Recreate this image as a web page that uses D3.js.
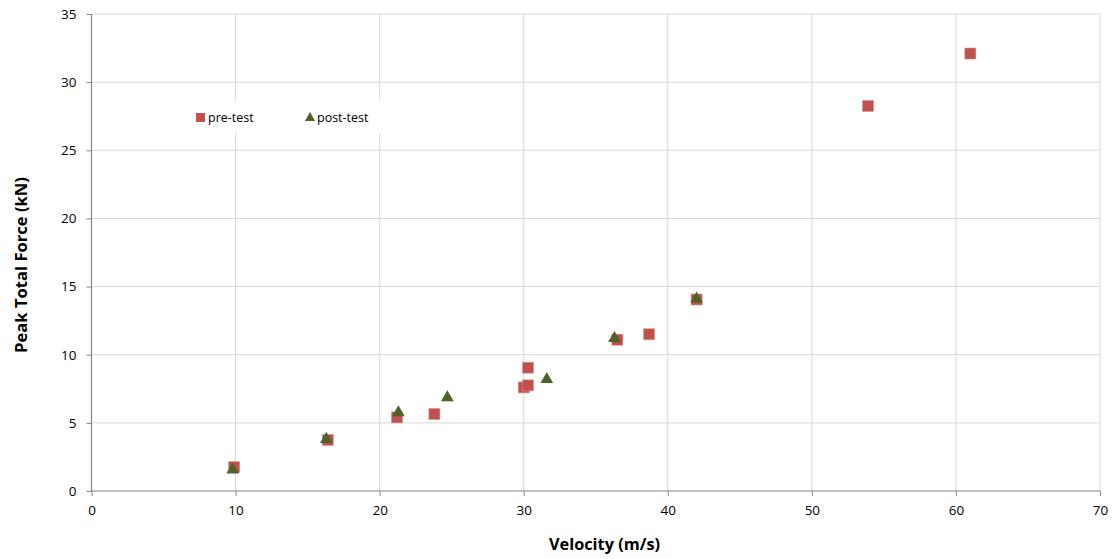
<!DOCTYPE html>
<html>
<head>
<meta charset="utf-8">
<script src="https://cdn.jsdelivr.net/npm/d3@7"></script>
<style>
  body { margin: 0; background: #fff; }
  text { font-family: "Open Sans", sans-serif; }
</style>
</head>
<body>
<div id="chart"></div>
<script>
// pre-test series
const preVelocity = [9.9, 16.4, 21.2, 23.8, 30.0, 30.3, 30.3, 36.5, 38.7, 42.0, 53.9, 61.0];
const preForce    = [1.75, 3.75, 5.4, 5.65, 7.6, 7.75, 9.05, 11.1, 11.5, 14.05, 28.25, 32.1];
// post-test series
const postVelocity = [9.8, 16.3, 21.3, 24.7, 31.6, 36.3, 42.0];
const postForce    = [1.55, 3.8, 5.75, 6.85, 8.2, 11.2, 14.1];

const xTicks = [0, 10, 20, 30, 40, 50, 60, 70];
const yTicks = [0, 5, 10, 15, 20, 25, 30, 35];

const width = 1114, height = 559;
const margin = { top: 14, right: 14, bottom: 68, left: 91.5 };
const innerW = width - margin.left - margin.right;
const innerH = height - margin.top - margin.bottom;

const svg = d3.select('#chart').append('svg')
    .attr('width', width)
    .attr('height', height);

const g = svg.append('g')
    .attr('transform', `translate(${margin.left},${margin.top})`);

const x = d3.scaleLinear().domain([0, 70]).range([0, innerW]);
const y = d3.scaleLinear().domain([0, 35]).range([innerH, 0]);

// gridlines
g.append('g').selectAll('line')
    .data(yTicks.slice(1))
    .join('line')
    .attr('x1', 0).attr('x2', innerW)
    .attr('y1', d => y(d)).attr('y2', d => y(d))
    .attr('stroke', '#d9d9d9').attr('stroke-width', 1);
g.append('g').selectAll('line')
    .data(xTicks.slice(1))
    .join('line')
    .attr('x1', d => x(d)).attr('x2', d => x(d))
    .attr('y1', 0).attr('y2', innerH)
    .attr('stroke', '#d9d9d9').attr('stroke-width', 1);

// axes
const xAxis = d3.axisBottom(x).tickValues(xTicks).tickSize(5).tickPadding(9);
const yAxis = d3.axisLeft(y).tickValues(yTicks).tickSize(5).tickPadding(10);

const xAxisG = g.append('g')
    .attr('transform', `translate(0,${innerH})`)
    .call(xAxis);
const yAxisG = g.append('g').call(yAxis);

[xAxisG, yAxisG].forEach(a => {
    a.select('.domain').attr('stroke', '#868686').attr('stroke-width', 1.2);
    a.selectAll('.tick line').attr('stroke', '#868686');
    a.selectAll('.tick text')
        .attr('fill', '#000')
        .style('font-size', '13.5px')
        .style('font-family', '"Open Sans", sans-serif');
});
yAxisG.select('.domain').attr('d', `M0,${innerH}V0`);
xAxisG.select('.domain').attr('d', `M0,0H${innerW}`);

// axis titles
svg.append('text')
    .attr('x', 604.5)
    .attr('y', 550)
    .attr('text-anchor', 'middle')
    .style('font-size', '16.3px')
    .style('font-weight', 'bold')
    .text('Velocity (m/s)');
svg.append('text')
    .attr('transform', `translate(27,265) rotate(-90)`)
    .attr('text-anchor', 'middle')
    .style('font-size', '16.6px')
    .style('font-weight', 'bold')
    .text('Peak Total Force (kN)');

// legend (white box covering gridlines)
const legend = svg.append('g');
legend.append('rect')
    .attr('x', 190).attr('y', 101)
    .attr('width', 192).attr('height', 32)
    .attr('fill', '#fff');

const sq = 11;
const tri = d3.symbol().type(d3.symbolTriangle).size(70);

legend.append('rect')
    .attr('x', 196).attr('y', 113)
    .attr('width', 9).attr('height', 9)
    .attr('fill', '#C0504D');
legend.append('text')
    .attr('x', 208).attr('y', 122)
    .style('font-size', '12.5px')
    .text('pre-test');
legend.append('path')
    .attr('d', d3.symbol().type(d3.symbolTriangle).size(45)())
    .attr('transform', 'translate(310,118)')
    .attr('fill', '#4F6228');
legend.append('text')
    .attr('x', 317).attr('y', 122)
    .style('font-size', '12.5px')
    .text('post-test');

// pre-test points
const preData = preVelocity.map((v, i) => ({ v, f: preForce[i] }));
g.selectAll('rect.pre')
    .data(preData)
    .join('rect')
    .attr('class', 'pre')
    .attr('x', d => x(d.v) - sq / 2)
    .attr('y', d => y(d.f) - sq / 2)
    .attr('width', sq).attr('height', sq)
    .attr('fill', '#C0504D')
    .attr('stroke', '#d89391')
    .attr('stroke-width', 0.6);

// post-test points
const postData = postVelocity.map((v, i) => ({ v, f: postForce[i] }));
g.selectAll('path.post')
    .data(postData)
    .join('path')
    .attr('class', 'post')
    .attr('d', tri)
    .attr('transform', d => `translate(${x(d.v)},${y(d.f)})`)
    .attr('fill', '#4F6228');
</script>
</body>
</html>
